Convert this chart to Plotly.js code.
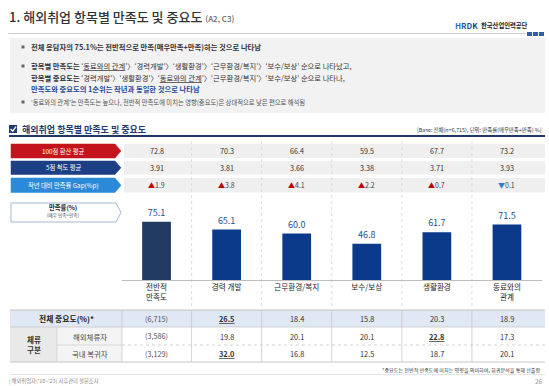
<!DOCTYPE html>
<html><head><meta charset="utf-8">
<script src="https://cdn.plot.ly/plotly-3.0.1.min.js"></script>
<style>html,body{margin:0;padding:0;background:#fff;overflow:hidden}</style>
</head><body><div id="chart" style="width:549px;height:386px"></div>
<script>
// ---- data ----
const categories = ['전반적 만족도','경력 개발','근무환경/복지','보수/보상','생활환경','동료와의 관계'];
const tickLabels = ['전반적<br>만족도','경력 개발','근무환경/복지','보수/보상','생활환경','동료와의<br>관계'];
const satisfaction = [75.1, 65.1, 60.0, 46.8, 61.7, 71.5];
const score100 = [72.8, 70.3, 66.4, 59.5, 67.7, 73.2];
const score5 = [3.91, 3.81, 3.66, 3.38, 3.71, 3.93];
const gapYoY = [1.9, 3.8, 4.1, 2.2, 0.7, -0.1];
const rowLabels = ['100점 환산 평균', '5점 척도 평균', '작년 대비 만족률 Gap(%p)'];
const importanceItems = ['경력 개발','근무환경/복지','보수/보상','생활환경','동료와의 관계'];
const groupN = ['(6,715)', '(3,586)', '(3,129)'];
const importanceTotal = [26.5, 18.4, 15.8, 20.3, 18.9];
const importanceOverseas = [19.8, 20.1, 20.1, 22.8, 17.3];
const importanceReturned = [32.0, 16.8, 12.5, 18.7, 20.1];

// ---- helpers ----
const W = 549, H = 386;
const FF = '"Noto Sans CJK KR", "Noto Sans", sans-serif';
const X = p => p / W, Y = p => 1 - p / H;
const shapes = [], annotations = [];
function rect(x0, y0, x1, y1, fill, lc, lw, dash) {
  shapes.push({type:'rect', xref:'paper', yref:'paper', x0:X(x0), x1:X(x1), y0:Y(y1), y1:Y(y0),
    fillcolor: fill || 'rgba(0,0,0,0)', line:{color: lc || 'rgba(0,0,0,0)', width: lw || 0, dash: dash || 'solid'}, layer:'below'});
}
function hline(x0, x1, y, color, w, dash) {
  shapes.push({type:'line', xref:'paper', yref:'paper', x0:X(x0), x1:X(x1), y0:Y(y), y1:Y(y),
    line:{color, width:w||1, dash:dash||'solid'}, layer:'below'});
}
function vlineData(xi, y0, y1, color, w, dash) {
  shapes.push({type:'line', xref:'x', yref:'paper', x0:xi, x1:xi, y0:Y(y0), y1:Y(y1),
    line:{color, width:w||1, dash:dash||'solid'}, layer:'below'});
}
function vline(x, y0, y1, color, w, dash) {
  shapes.push({type:'line', xref:'paper', yref:'paper', x0:X(x), x1:X(x), y0:Y(y0), y1:Y(y1),
    line:{color, width:w||1, dash:dash||'solid'}, layer:'below'});
}
function pent(x0, y0, x1, y1, tip, fill, lc, lw) {
  const ym = (y0 + y1) / 2;
  const d = `M${X(x0)},${Y(y0)} L${X(x1-tip)},${Y(y0)} L${X(x1)},${Y(ym)} L${X(x1-tip)},${Y(y1)} L${X(x0)},${Y(y1)} Z`;
  shapes.push({type:'path', xref:'paper', yref:'paper', path:d, fillcolor:fill,
    line:{color: lc || fill, width: lw || 0.5}, layer:'below'});
}
function ann(text, x, y, size, color, opts) {
  annotations.push(Object.assign({text, x:X(x), y:Y(y), xref:'paper', yref:'paper', showarrow:false,
    xanchor:'left', yanchor:'middle', font:{family:FF, size, color}}, opts || {}));
}
function annCat(text, cat, y, size, color, opts) {
  annotations.push(Object.assign({text, x:cat, y:Y(y), xref:'x', yref:'paper', showarrow:false,
    xanchor:'center', yanchor:'middle', font:{family:FF, size, color}}, opts || {}));
}

// ---- header ----
ann('1. 해외취업 항목별 만족도 및 중요도 <span style="font-size:8px;color:#666">(A2, C3)</span>', 7, 16, 13, '#333', {font:{family:FF, size:13, color:'#333', weight:500}});
ann('<b><span style="color:#1b6fc0">H</span><span style="color:#2257a6">RD</span><span style="color:#1a3f7f">K</span></b>', 453, 25, 8, '#1b5fae');
ann('<b>한국산업인력공단</b>', 478.5, 25, 6.3, '#222');
hline(8, 526, 33.5, '#cfcfcf', 1);
rect(527, 32, 532, 36, '#2f5ea8');
rect(533, 32, 538, 36, '#2f5ea8');
rect(539, 32, 544, 36, '#2f5ea8');

// summary box
rect(10, 38, 545, 113, '#f2f2f2');
[47, 66, 102].forEach(y => rect(21.5, y - 1.5, 24.5, y + 1.5, '#666'));
ann('<b>전체 응답자의 75.1%는 전반적으로 만족(매우만족+만족)하는 것으로 나타남</b>', 29, 47, 7.3, '#333');
ann('<b>항목별 만족도는</b> ‘<u>동료와의 관계</u>’〉‘경력개발’〉‘생활환경’〉‘근무환경/복지’〉‘보수/보상’ 순으로 나타났고,', 29, 66, 7.3, '#333');
ann('<b>항목별 중요도는</b> ‘경력개발’〉‘생활환경’〉‘<u>동료와의 관계</u>’〉‘근무환경/복지’〉‘보수/보상’ 순으로 나타나,', 29, 77.5, 7.3, '#333');
ann('<b>만족도와 중요도의 1순위는 작년과 동일한 것으로 나타남</b>', 29, 89, 7.3, '#1d4b9a');
ann('‘동료와의 관계’는 만족도는 높으나, 전반적 만족도에 미치는 영향(중요도)은 상대적으로 낮은 편으로 해석됨', 29, 102, 6.3, '#555');

// section title
rect(9, 125, 17, 133, '#1f3a70');
shapes.push({type:'path', xref:'paper', yref:'paper', path:`M${X(10.6)},${Y(129)} L${X(12.7)},${Y(131.3)} L${X(16)},${Y(126.6)}`, line:{color:'#fff', width:1.3}, layer:'above'});
ann('<b>해외취업 항목별 만족도 및 중요도</b>', 20, 129, 9, '#1f3a70');
ann('[Base: 전체(n=6,715), 단위: 만족률(매우만족+만족) %]', 544, 129.5, 5.4, '#333', {xanchor:'right'});
hline(9, 545, 136, '#1f3864', 2);

// top table
const rowsY = [[144, 158], [161, 174.5], [178, 192.5]];
const rowCols = ['#c3141d', '#1d3f85', '#2b8ad7'];
rowsY.forEach((r, i) => {
  rect(124, r[0], 545, r[1], '#efefef');
  pent(11, r[0], 121, r[1], 6, rowCols[i]);
  ann(rowLabels[i], 63, (r[0] + r[1]) / 2, 6.3, '#fff', {xanchor:'center'});
});
for (let i = 0; i < categories.length; i++) {
  annCat(score100[i].toFixed(1), categories[i], 151, 7.2, '#333');
  annCat(score5[i].toFixed(2), categories[i], 167.8, 7.2, '#333');
  const g = gapYoY[i];
  const tri = g >= 0 ? '<span style="color:#c00000">▲</span>' : '<span style="color:#2e7fd0">▼</span>';
  annCat(tri + Math.abs(g).toFixed(1), categories[i], 185.5, 7, '#444');
}
for (let i = 0; i < categories.length - 1; i++) vlineData(i + 0.5, 141, 308, '#d4d4d4', 0.8, 'dot');

// chart label box
pent(11, 203, 121, 222, 5, '#ffffff', '#8ea3c3', 0.8);
ann('<b>만족률(%)</b>', 63, 207.5, 6.3, '#222', {xanchor:'center'});
ann('(매우 만족+만족)', 63, 215, 4.6, '#444', {xanchor:'center'});

// bottom table
const tY = [310, 327, 345, 362];
rect(10, tY[0], 545, tY[1], '#dfe8f4');
rect(10, tY[1], 57, tY[3], '#e9e9e9');
rect(57, tY[1], 122, tY[3], '#f4f4f4');
hline(10, 545, tY[0], '#b8b8b8', 0.8);
hline(10, 545, tY[1], '#c8c8c8', 0.8);
hline(57, 122, tY[2], '#d0d0d0', 0.8);
hline(122, 545, tY[2], '#c8c8c8', 0.8, 'dot');
hline(10, 545, tY[3], '#b8b8b8', 0.8);
vline(57, tY[1], tY[3], '#d0d0d0', 0.8);
vline(122, tY[0], tY[3], '#c8c8c8', 0.8);
for (let i = 0; i < categories.length - 1; i++) vlineData(i + 0.5, tY[0], tY[3], '#c8c8c8', 0.8);
ann('<b>전체 중요도(%)*</b>', 66, 318.5, 7.8, '#222', {xanchor:'center'});
ann('<b>체류<br>구분</b>', 33.5, 344, 7.6, '#333', {xanchor:'center'});
ann('해외체류자', 89.5, 336, 7.4, '#444', {xanchor:'center'});
ann('국내 복귀자', 89.5, 353.5, 7.4, '#444', {xanchor:'center'});
const impRows = [importanceTotal, importanceOverseas, importanceReturned];
const impY = [318.5, 336, 353.5];
impRows.forEach((vals, r) => {
  annCat(groupN[r], categories[0], impY[r], 7.2, '#555');
  const mx = Math.max(...vals);
  vals.forEach((v, j) => {
    const t = v === mx ? '<b><u>' + v.toFixed(1) + '</u></b>' : v.toFixed(1);
    annCat(t, importanceItems[j], impY[r], 7.4, '#333');
  });
});
ann('*중요도는 전반적 만족도에 미치는 영향을 의미하며, 회귀분석을 통해 산출함', 543, 369.5, 5.1, '#333', {xanchor:'right'});
hline(10, 545, 374.5, '#dddddd', 0.8);
ann('| 해외취업자(’18~’23) 사후관리 설문조사', 7, 380.5, 5.3, '#888');
ann('26', 545, 380.5, 6.5, '#999', {xanchor:'right'});

// ---- chart ----
const barColors = categories.map((c, i) => i === 0 ? '#203a62' : '#0c3a8b');
const trace = {
  type:'bar', x:categories, y:satisfaction, marker:{color:barColors, line:{width:0}},
  width:0.41, text:satisfaction.map(v => v.toFixed(1)), textposition:'outside',
  textfont:{family:FF, size:9, color:'#23508f'}, cliponaxis:false, hoverinfo:'skip'
};
const layout = {
  width:W, height:H, margin:{l:0, r:0, t:0, b:0}, paper_bgcolor:'#fff', plot_bgcolor:'rgba(0,0,0,0)',
  showlegend:false, font:{family:FF},
  xaxis:{domain:[X(121.5), X(542)], range:[-0.5, 5.5], type:'category', tickvals:categories, ticktext:tickLabels,
    tickfont:{family:FF, size:7.6, color:'#222'}, showline:true, linecolor:'#bdbdbd', linewidth:1,
    showgrid:false, zeroline:false, ticks:'', fixedrange:true},
  yaxis:{domain:[Y(280), Y(200)], range:[0, 80 / 0.775], visible:false, showgrid:false, zeroline:false, fixedrange:true},
  shapes, annotations
};
Plotly.newPlot('chart', [trace], layout, {displayModeBar:false, staticPlot:true});
</script></body></html>
